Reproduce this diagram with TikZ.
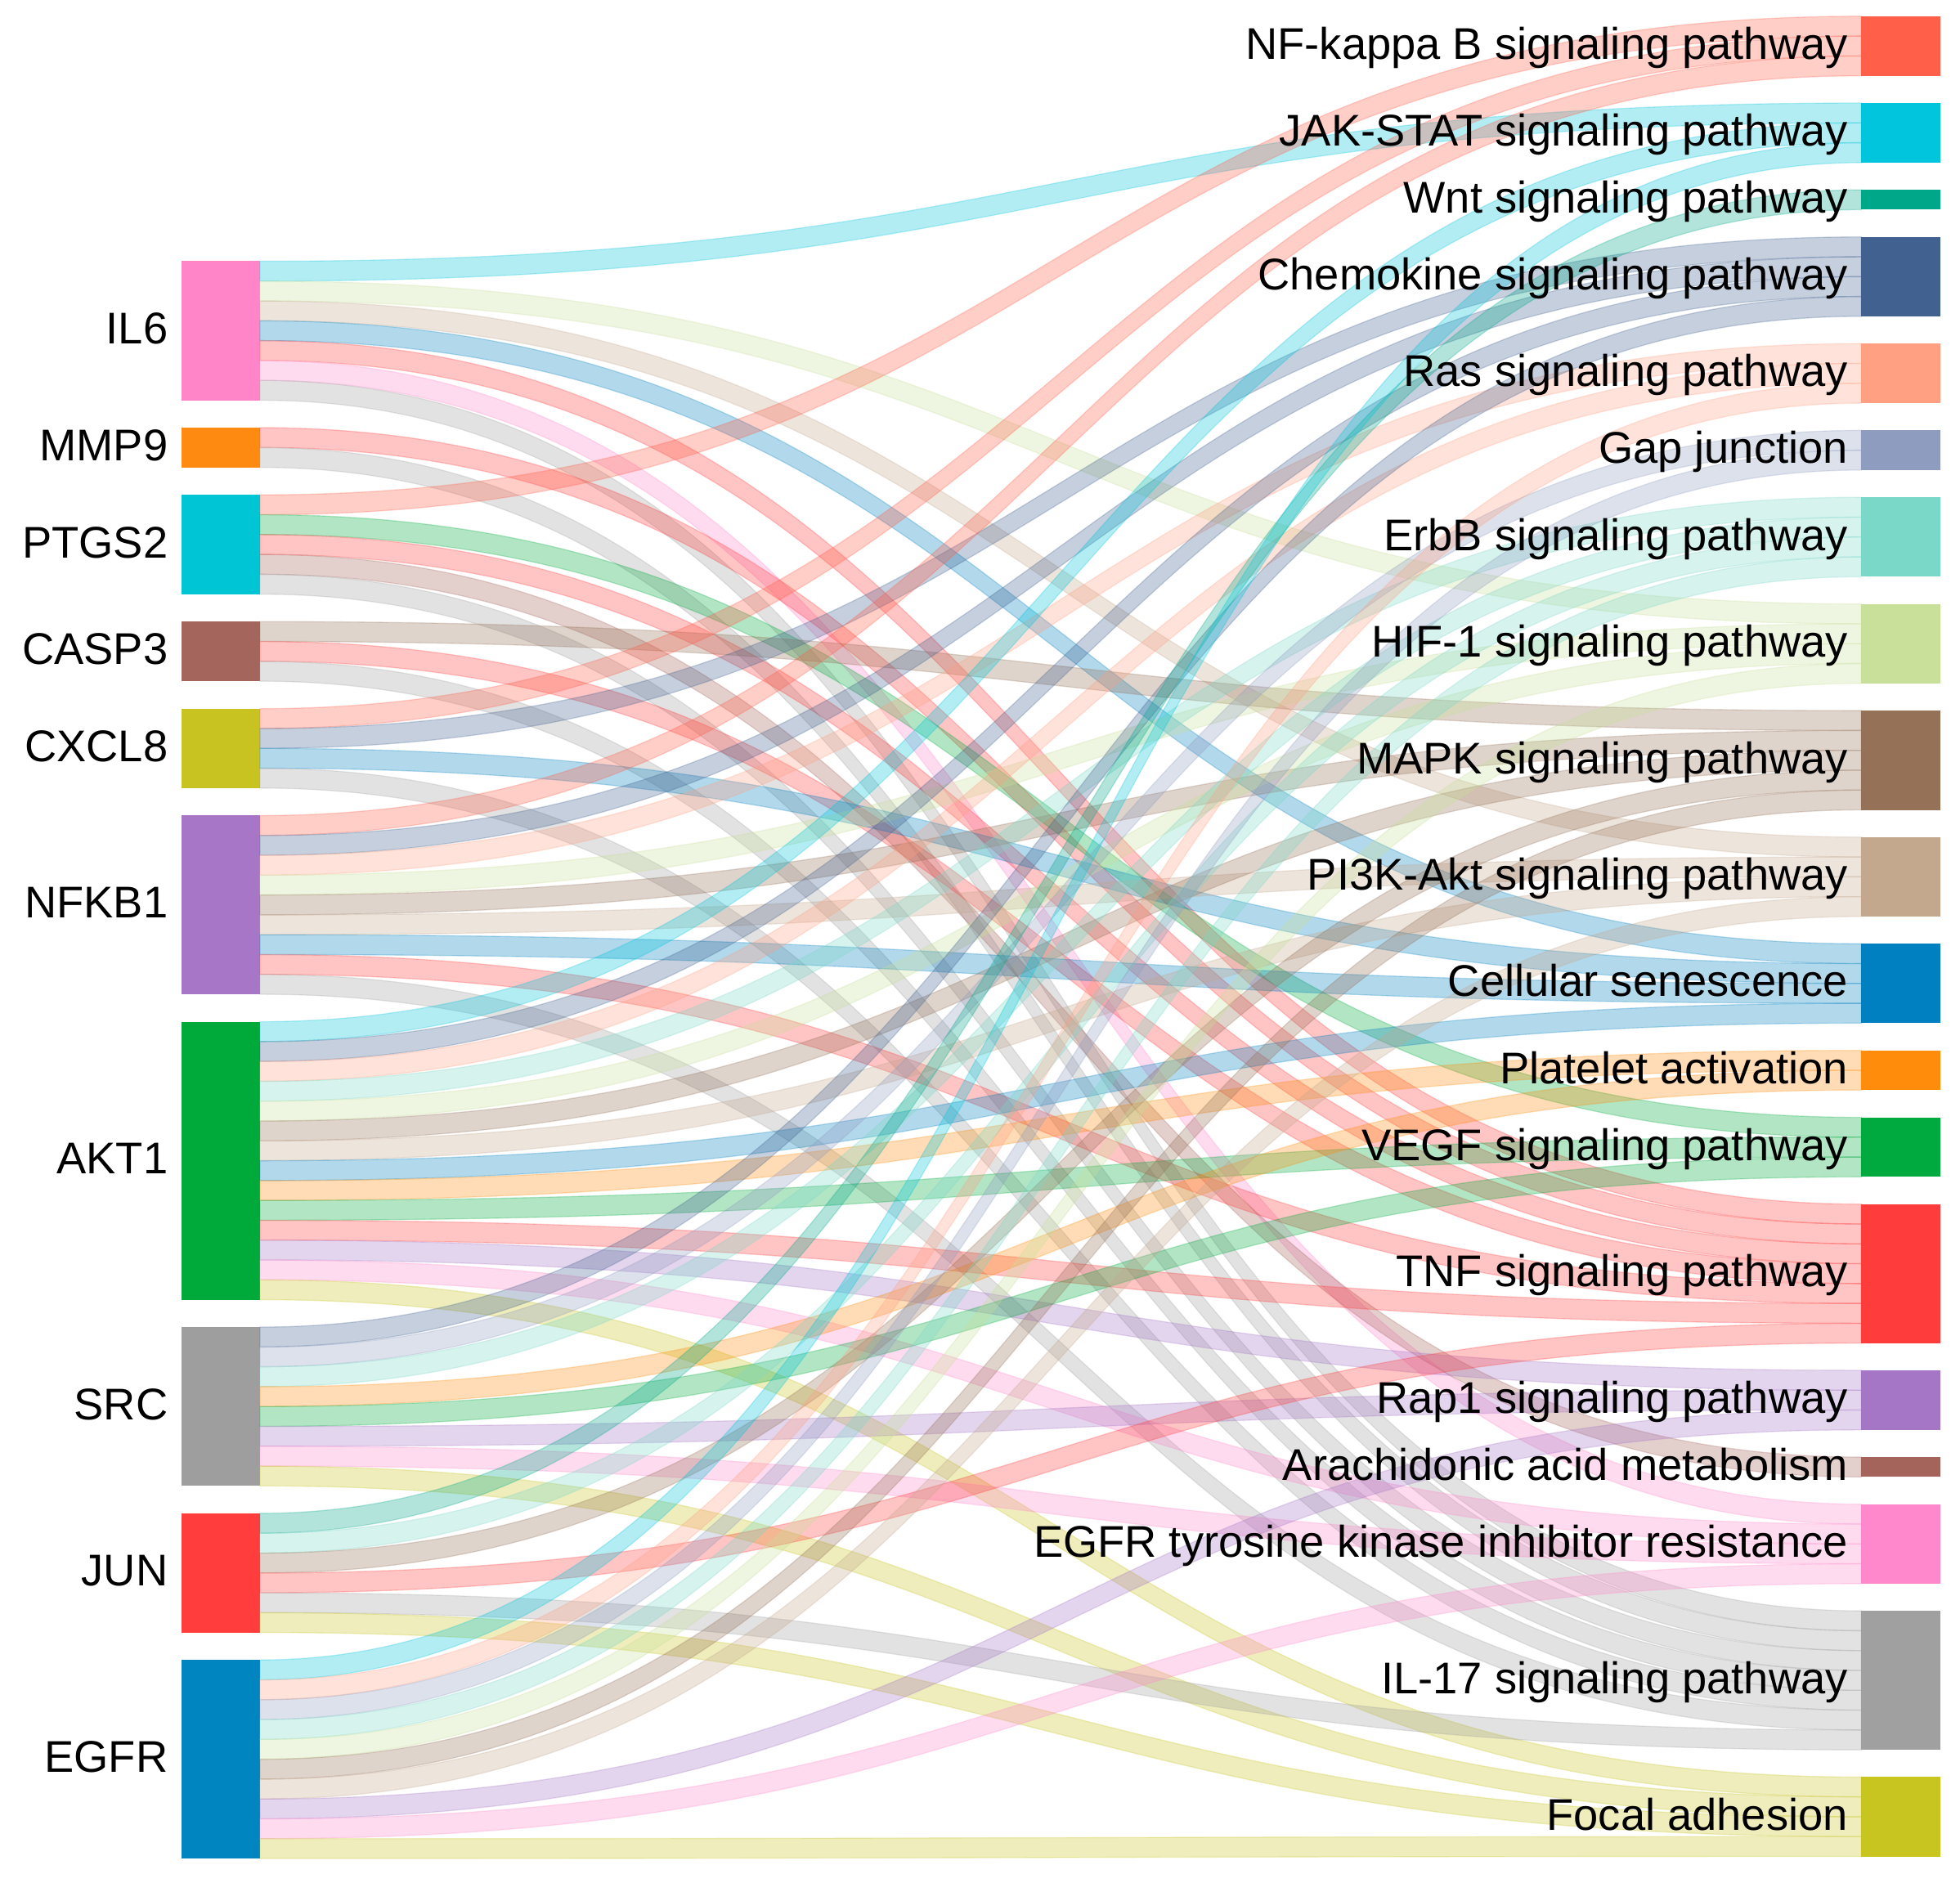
\documentclass[tikz,border=0pt]{standalone}
\usepackage{fontspec}
\setmainfont{Liberation Sans}
\usetikzlibrary{calc}
% source colours
\definecolor{cIL6}{HTML}{FF85C8}
\definecolor{cMMP9}{HTML}{FF8A12}
\definecolor{cPTGS2}{HTML}{00C5D5}
\definecolor{cCASP3}{HTML}{A4655D}
\definecolor{cCXCL8}{HTML}{C8C321}
\definecolor{cNFKB1}{HTML}{A776C6}
\definecolor{cAKT1}{HTML}{00AA3A}
\definecolor{cSRC}{HTML}{9E9E9E}
\definecolor{cJUN}{HTML}{FF3D3D}
\definecolor{cEGFR}{HTML}{0085C0}
% target colours
\definecolor{cNFkB}{HTML}{FF5E48}
\definecolor{cJAK}{HTML}{00C5DC}
\definecolor{cWnt}{HTML}{00A88A}
\definecolor{cChem}{HTML}{416190}
\definecolor{cRas}{HTML}{FFA082}
\definecolor{cGap}{HTML}{8E9CC0}
\definecolor{cErbB}{HTML}{7AD8C8}
\definecolor{cHIF}{HTML}{C8E09A}
\definecolor{cMAPK}{HTML}{957157}
\definecolor{cPI3K}{HTML}{C4A88E}
\definecolor{cSen}{HTML}{0080C0}
\definecolor{cPlt}{HTML}{FF8C0A}
\definecolor{cVEGF}{HTML}{00AA3E}
\definecolor{cTNF}{HTML}{FF3C3C}
\definecolor{cRap1}{HTML}{A575C6}
\definecolor{cArach}{HTML}{A4645C}
\definecolor{cTKI}{HTML}{FF88CC}
\definecolor{cIL17}{HTML}{A0A0A0}
\definecolor{cFocal}{HTML}{C8C420}
\def\tk{0.1588cm}
% link: #1 source node, #2 slot at source, #3 target node, #4 slot at target
\newcommand\lnk[4]{%
  \path[band, fill=c#3, draw=c#3] let \p1=(#1.north east), \p2=(#3.north west) in
    (\x1,\y1-#2*\tk) .. controls (\x1/2+\x2/2,\y1-#2*\tk) and (\x1/2+\x2/2,\y2-#4*\tk) .. (\x2,\y2-#4*\tk)
    -- (\x2,\y2-#4*\tk-\tk) .. controls (\x1/2+\x2/2,\y2-#4*\tk-\tk) and (\x1/2+\x2/2,\y1-#2*\tk-\tk) .. (\x1,\y1-#2*\tk-\tk)
    -- cycle;}
\begin{document}
\begin{tikzpicture}[x=0.01cm, y=-0.01cm,
  nd/.style={draw=none, inner sep=0pt, outer sep=0pt, minimum width=0.63cm, anchor=north west, fill=c#1},
  lab/.style={font=\fontsize{10.1}{12}\selectfont, inner sep=0pt, text height=0.716em, text depth=0pt, anchor=east},
  band/.style={fill opacity=0.3, draw opacity=0.25, line width=0.25pt}]
\fill[white] (0,0) rectangle (1568,1506);
\useasboundingbox (0,0) rectangle (1568,1506);
% left nodes
\node[nd=IL6,   minimum height={7*\tk}]  (IL6)   at (145,209) {};
\node[nd=MMP9,  minimum height={2*\tk}]  (MMP9)  at (145,342.16) {};
\node[nd=PTGS2, minimum height={5*\tk}]  (PTGS2) at (145,395.92) {};
\node[nd=CASP3, minimum height={3*\tk}]  (CASP3) at (145,497.32) {};
\node[nd=CXCL8, minimum height={4*\tk}]  (CXCL8) at (145,566.96) {};
\node[nd=NFKB1, minimum height={9*\tk}]  (NFKB1) at (145,652.48) {};
\node[nd=AKT1,  minimum height={14*\tk}] (AKT1)  at (145,817.40) {};
\node[nd=SRC,   minimum height={8*\tk}]  (SRC)   at (145,1061.72) {};
\node[nd=JUN,   minimum height={6*\tk}]  (JUN)   at (145,1210.76) {};
\node[nd=EGFR,  minimum height={10*\tk}] (EGFR)  at (145,1328.04) {};
% right nodes
\node[nd=NFkB,  minimum height={3*\tk}] (NFkB)  at (1489,13) {};
\node[nd=JAK,   minimum height={3*\tk}] (JAK)   at (1489,82.44) {};
\node[nd=Wnt,   minimum height={1*\tk}] (Wnt)   at (1489,151.88) {};
\node[nd=Chem,  minimum height={4*\tk}] (Chem)  at (1489,189.56) {};
\node[nd=Ras,   minimum height={3*\tk}] (Ras)   at (1489,274.88) {};
\node[nd=Gap,   minimum height={2*\tk}] (Gap)   at (1489,344.32) {};
\node[nd=ErbB,  minimum height={4*\tk}] (ErbB)  at (1489,397.88) {};
\node[nd=HIF,   minimum height={4*\tk}] (HIF)   at (1489,483.2) {};
\node[nd=MAPK,  minimum height={5*\tk}] (MAPK)  at (1489,568.52) {};
\node[nd=PI3K,  minimum height={4*\tk}] (PI3K)  at (1489,669.72) {};
\node[nd=Sen,   minimum height={4*\tk}] (Sen)   at (1489,755.04) {};
\node[nd=Plt,   minimum height={2*\tk}] (Plt)   at (1489,840.36) {};
\node[nd=VEGF,  minimum height={3*\tk}] (VEGF)  at (1489,893.92) {};
\node[nd=TNF,   minimum height={7*\tk}] (TNF)   at (1489,963.36) {};
\node[nd=Rap1,  minimum height={3*\tk}] (Rap1)  at (1489,1096.32) {};
\node[nd=Arach, minimum height={1*\tk}] (Arach) at (1489,1165.76) {};
\node[nd=TKI,   minimum height={4*\tk}] (TKI)   at (1489,1203.44) {};
\node[nd=IL17,  minimum height={7*\tk}] (IL17)  at (1489,1288.76) {};
\node[nd=Focal, minimum height={4*\tk}] (Focal) at (1489,1421.72) {};
% links
\lnk{IL6}{0}{JAK}{0}\lnk{IL6}{1}{HIF}{0}\lnk{IL6}{2}{PI3K}{0}\lnk{IL6}{3}{Sen}{0}
\lnk{IL6}{4}{TNF}{0}\lnk{IL6}{5}{TKI}{0}\lnk{IL6}{6}{IL17}{0}
\lnk{MMP9}{0}{TNF}{1}\lnk{MMP9}{1}{IL17}{1}
\lnk{PTGS2}{0}{NFkB}{0}\lnk{PTGS2}{1}{VEGF}{0}\lnk{PTGS2}{2}{TNF}{2}\lnk{PTGS2}{3}{Arach}{0}\lnk{PTGS2}{4}{IL17}{2}
\lnk{CASP3}{0}{MAPK}{0}\lnk{CASP3}{1}{TNF}{3}\lnk{CASP3}{2}{IL17}{3}
\lnk{CXCL8}{0}{NFkB}{1}\lnk{CXCL8}{1}{Chem}{0}\lnk{CXCL8}{2}{Sen}{1}\lnk{CXCL8}{3}{IL17}{4}
\lnk{NFKB1}{0}{NFkB}{2}\lnk{NFKB1}{1}{Chem}{1}\lnk{NFKB1}{2}{Ras}{0}\lnk{NFKB1}{3}{HIF}{1}
\lnk{NFKB1}{4}{MAPK}{1}\lnk{NFKB1}{5}{PI3K}{1}\lnk{NFKB1}{6}{Sen}{2}\lnk{NFKB1}{7}{TNF}{4}\lnk{NFKB1}{8}{IL17}{5}
\lnk{AKT1}{0}{JAK}{1}\lnk{AKT1}{1}{Chem}{2}\lnk{AKT1}{2}{Ras}{1}\lnk{AKT1}{3}{ErbB}{0}
\lnk{AKT1}{4}{HIF}{2}\lnk{AKT1}{5}{MAPK}{2}\lnk{AKT1}{6}{PI3K}{2}\lnk{AKT1}{7}{Sen}{3}
\lnk{AKT1}{8}{Plt}{0}\lnk{AKT1}{9}{VEGF}{1}\lnk{AKT1}{10}{TNF}{5}\lnk{AKT1}{11}{Rap1}{0}
\lnk{AKT1}{12}{TKI}{1}\lnk{AKT1}{13}{Focal}{0}
\lnk{SRC}{0}{Chem}{3}\lnk{SRC}{1}{Gap}{0}\lnk{SRC}{2}{ErbB}{1}\lnk{SRC}{3}{Plt}{1}
\lnk{SRC}{4}{VEGF}{2}\lnk{SRC}{5}{Rap1}{1}\lnk{SRC}{6}{TKI}{2}\lnk{SRC}{7}{Focal}{1}
\lnk{JUN}{0}{Wnt}{0}\lnk{JUN}{1}{ErbB}{2}\lnk{JUN}{2}{MAPK}{3}\lnk{JUN}{3}{TNF}{6}
\lnk{JUN}{4}{IL17}{6}\lnk{JUN}{5}{Focal}{2}
\lnk{EGFR}{0}{JAK}{2}\lnk{EGFR}{1}{Ras}{2}\lnk{EGFR}{2}{Gap}{1}\lnk{EGFR}{3}{ErbB}{3}
\lnk{EGFR}{4}{HIF}{3}\lnk{EGFR}{5}{MAPK}{4}\lnk{EGFR}{6}{PI3K}{3}\lnk{EGFR}{7}{Rap1}{2}
\lnk{EGFR}{8}{TKI}{3}\lnk{EGFR}{9}{Focal}{3}
% labels, left
\node[lab] (lIL6)   at ($(IL6.west)+(-10,-2)$)   {IL6};
\node[lab] (lMMP9)  at ($(MMP9.west)+(-10,-2)$)  {MMP9};
\node[lab] (lPTGS2) at ($(PTGS2.west)+(-10,-2)$) {PTGS2};
\node[lab] (lCASP3) at ($(CASP3.west)+(-10,-2)$) {CASP3};
\node[lab] (lCXCL8) at ($(CXCL8.west)+(-10,-2)$) {CXCL8};
\node[lab] (lNFKB1) at ($(NFKB1.west)+(-10,-2)$) {NFKB1};
\node[lab] (lAKT1)  at ($(AKT1.west)+(-10,-2)$)  {AKT1};
\node[lab] (lSRC)   at ($(SRC.west)+(-10,-2)$)   {SRC};
\node[lab] (lJUN)   at ($(JUN.west)+(-10,-2)$)   {JUN};
\node[lab] (lEGFR)  at ($(EGFR.west)+(-10,-2)$)  {EGFR};
% labels, right
\node[lab] (lNFkB)  at ($(NFkB.west)+(-10,-2)$)  {NF-kappa B signaling pathway};
\node[lab] (lJAK)   at ($(JAK.west)+(-10,-2)$)   {JAK-STAT signaling pathway};
\node[lab] (lWnt)   at ($(Wnt.west)+(-10,-2)$)   {Wnt signaling pathway};
\node[lab] (lChem)  at ($(Chem.west)+(-10,-2)$)  {Chemokine signaling pathway};
\node[lab] (lRas)   at ($(Ras.west)+(-10,-2)$)   {Ras signaling pathway};
\node[lab] (lGap)   at ($(Gap.west)+(-10,-2)$)   {Gap junction};
\node[lab] (lErbB)  at ($(ErbB.west)+(-10,-2)$)  {ErbB signaling pathway};
\node[lab] (lHIF)   at ($(HIF.west)+(-10,-2)$)   {HIF-1 signaling pathway};
\node[lab] (lMAPK)  at ($(MAPK.west)+(-10,-2)$)  {MAPK signaling pathway};
\node[lab] (lPI3K)  at ($(PI3K.west)+(-10,-2)$)  {PI3K-Akt signaling pathway};
\node[lab] (lSen)   at ($(Sen.west)+(-10,-2)$)   {Cellular senescence};
\node[lab] (lPlt)   at ($(Plt.west)+(-10,-2)$)   {Platelet activation};
\node[lab] (lVEGF)  at ($(VEGF.west)+(-10,-2)$)  {VEGF signaling pathway};
\node[lab] (lTNF)   at ($(TNF.west)+(-10,-2)$)   {TNF signaling pathway};
\node[lab] (lRap1)  at ($(Rap1.west)+(-10,-2)$)  {Rap1 signaling pathway};
\node[lab] (lArach) at ($(Arach.west)+(-10,-2)$) {Arachidonic acid metabolism};
\node[lab] (lTKI)   at ($(TKI.west)+(-10,-2)$)   {EGFR tyrosine kinase inhibitor resistance};
\node[lab] (lIL17)  at ($(IL17.west)+(-10,-2)$)  {IL-17 signaling pathway};
\node[lab] (lFocal) at ($(Focal.west)+(-10,-2)$) {Focal adhesion};
\end{tikzpicture}
\end{document}
